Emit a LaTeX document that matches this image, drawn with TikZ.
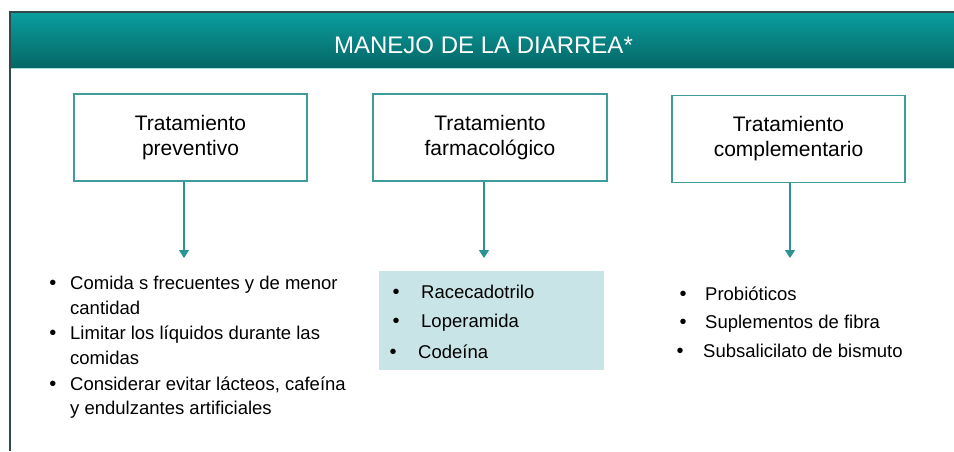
\documentclass[tikz,border=0pt]{standalone}
\usepackage{fontspec}
\setmainfont{Liberation Sans}
\usetikzlibrary{arrows.meta}
\definecolor{bandtop}{HTML}{0A9E9E}
\definecolor{bandbot}{HTML}{066666}
\definecolor{boxline}{HTML}{3E9C9A}
\definecolor{arrcol}{HTML}{2A9494}
\definecolor{shadecol}{HTML}{C9E4E6}
\definecolor{framecol}{HTML}{33484A}
\begin{document}
\begin{tikzpicture}[x=1pt,y=-1pt,
  hbox/.style={draw=boxline, line width=1.6pt, fill=white, minimum width=233pt, minimum height=87pt, align=center, font=\fontsize{21}{25}\selectfont, inner sep=0pt},
  arr/.style={draw=arrcol, line width=1.4pt, -{Triangle[width=10pt,length=8pt]}},
  itemtext/.style={anchor=base west, inner sep=0pt, font=\fontsize{18.5}{22}\selectfont},
  dot/.style={anchor=base, inner sep=0pt, font=\fontsize{20}{22}\selectfont}]
\useasboundingbox (0,0) rectangle (954,451);
\fill[white] (0,0) rectangle (954,451);
% header band
\shade[top color=bandtop, bottom color=bandbot] (9,12) rectangle (954,68);
\draw[bandtop!35, line width=1pt] (9,68.5) -- (954,68.5);
\draw[framecol, line width=2pt] (9,12) -- (954,12);
\draw[framecol, line width=2.5pt] (10,11) -- (10,451);
\node[text=white, font=\fontsize{24}{28}\selectfont, anchor=base, inner sep=0pt] (title) at (483.5,53) {MANEJO DE LA DIARREA*};
% boxes
\node[hbox] (b1) at (190.5,137.5) {Tratamiento\\preventivo};
\node[hbox, minimum width=234pt] (b2) at (490,137.5) {Tratamiento\\farmacológico};
\node[hbox] (b3) at (788.5,139) {Tratamiento\\complementario};
% arrows
\coordinate (t1) at (184,258);
\coordinate (t2) at (484,258);
\coordinate (t3) at (790,258);
\draw[arr] (b1.south -| t1) -- (t1);
\draw[arr] (b2.south -| t2) -- (t2);
\draw[arr] (b3.south -| t3) -- (t3);
% shaded box
\node[fill=shadecol, minimum width=225pt, minimum height=99pt, inner sep=0pt, anchor=north west] (sh) at (379,271) {};
% left list
\node[dot] (l1d) at (53,289) {•};
\node[itemtext] (l1) at (70,289) {Comida s frecuentes y de menor};
\node[itemtext] (l1b) at (70,314) {cantidad};
\node[dot] (l2d) at (53,339) {•};
\node[itemtext] (l2) at (70,339) {Limitar los líquidos durante las};
\node[itemtext] (l2b) at (70,364) {comidas};
\node[dot] (l3d) at (53,390) {•};
\node[itemtext] (l3) at (70,390) {Considerar evitar lácteos, cafeína};
\node[itemtext] (l3b) at (70,414) {y endulzantes artificiales};
% middle list
\node[dot] (m1d) at (396,298) {•};
\node[itemtext] (m1) at (421,298) {Racecadotrilo};
\node[dot] (m2d) at (396,327) {•};
\node[itemtext] (m2) at (421,327) {Loperamida};
\node[dot] (m3d) at (393,358) {•};
\node[itemtext] (m3) at (418,358) {Codeína};
% right list
\node[dot] (r1d) at (683,300) {•};
\node[itemtext] (r1) at (705,300) {Probióticos};
\node[dot] (r2d) at (683,328) {•};
\node[itemtext] (r2) at (705,328) {Suplementos de fibra};
\node[dot] (r3d) at (680,357) {•};
\node[itemtext] (r3) at (703,357) {Subsalicilato de bismuto};
\end{tikzpicture}
\end{document}
